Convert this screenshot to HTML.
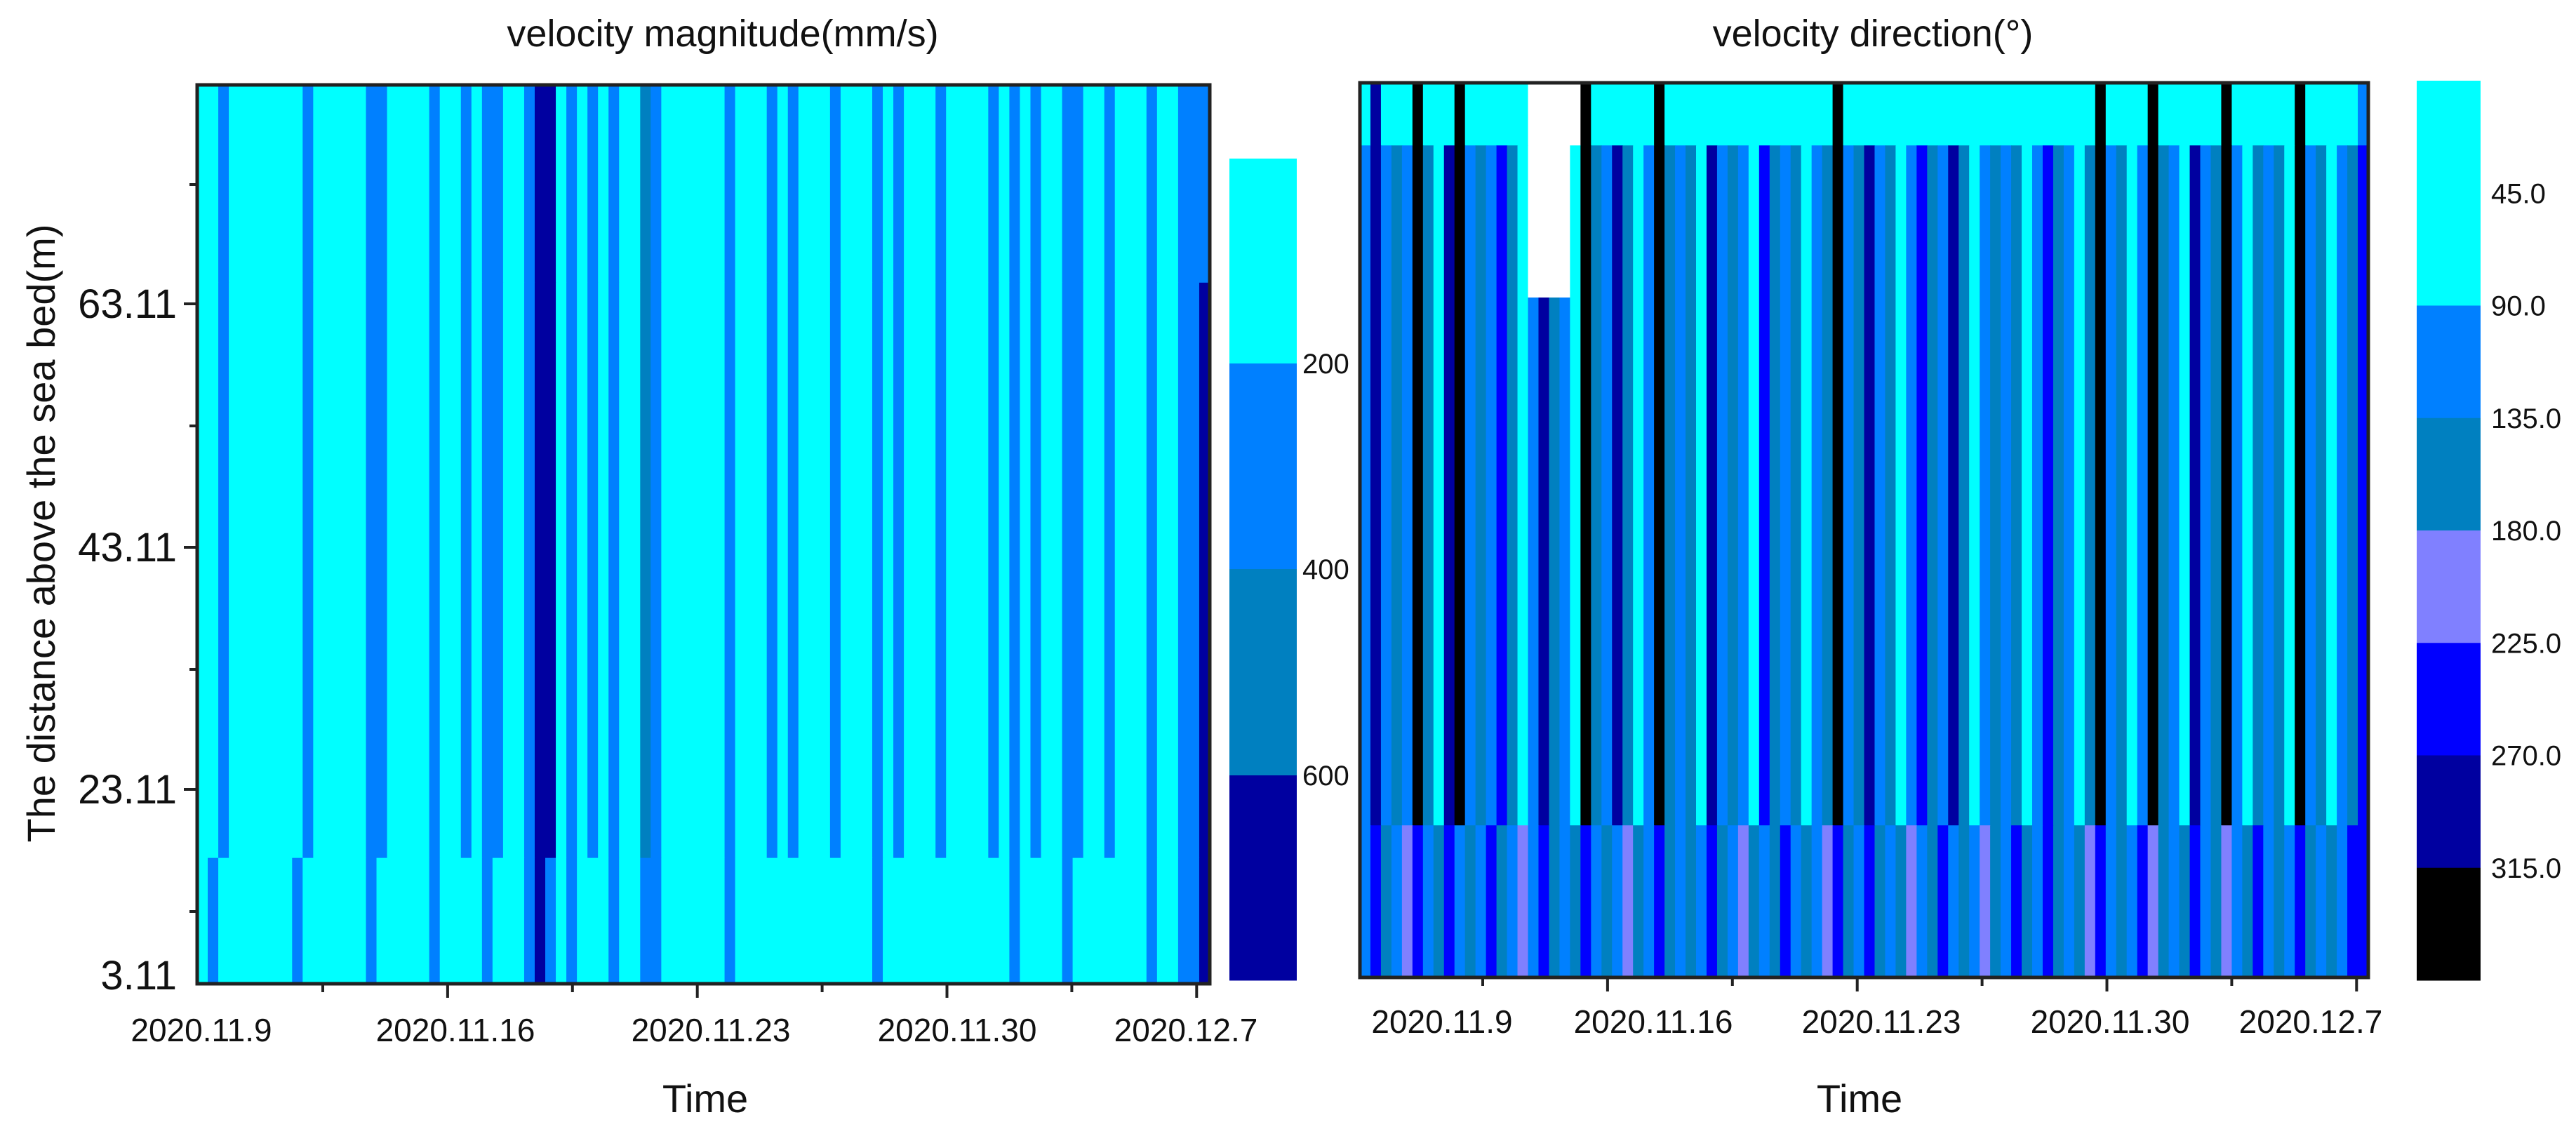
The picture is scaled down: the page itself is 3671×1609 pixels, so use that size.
<!DOCTYPE html>
<html><head><meta charset="utf-8"><style>
html,body{margin:0;padding:0;background:#fff;}
svg{display:block;font-family:"Liberation Sans",Arial,sans-serif;}
</style></head><body>
<svg id="c" width="3671" height="1609" viewBox="0 0 3671 1609" xmlns="http://www.w3.org/2000/svg">
<g id="mag"></g>
<g id="dir"></g>
<g id="axes"></g>
</svg>
<script>
// ---- data ----
const timeTicks = ["2020.11.9","2020.11.16","2020.11.23","2020.11.30","2020.12.7"];
const depthTicks = ["63.11","43.11","23.11","3.11"];
const magBands = [200,400,600];
const dirBands = ["45.0","90.0","135.0","180.0","225.0","270.0","315.0"];
const magTop = [100,100,300,100,100,100,100,100,100,100,300,100,100,100,100,100,300,300,100,100,100,100,300,100,100,300,100,300,300,100,100,300,700,700,100,300,100,300,100,300,100,100,500,300,100,100,100,100,100,100,300,100,100,100,300,100,300,100,100,100,300,100,100,100,300,100,300,100,100,100,300,100,100,100,100,300,100,300,100,300,100,100,300,300,100,100,300,100,100,100,300,100,100,300,300,300];
const magMid = magTop.slice(0,95).concat([700]);
const magBottom = [100,300,100,100,100,100,100,100,100,300,100,100,100,100,100,100,300,100,100,100,100,100,300,100,100,100,100,300,100,100,100,300,700,300,100,300,100,100,100,300,100,100,300,300,100,100,100,100,100,100,300,100,100,100,100,100,100,100,100,100,100,100,100,100,300,100,100,100,100,100,100,100,100,100,100,100,100,300,100,100,100,100,300,100,100,100,100,100,100,100,300,100,100,300,300,700];
const dirMid = [110,290,110,150,110,340,150,60,290,340,110,150,110,250,150,60,110,290,150,110,60,340,150,110,290,150,60,110,340,150,110,150,60,290,110,150,110,60,250,150,110,150,60,110,150,340,110,150,290,110,150,60,110,250,150,110,290,150,60,110,150,110,150,60,110,250,150,110,60,150,340,110,150,60,110,340,150,110,60,290,110,150,340,110,60,150,110,150,60,340,110,150,60,110,150,260];
const dirTop = [40,290,40,40,40,340,40,40,40,340,40,40,40,40,40,40,5,5,5,5,5,340,40,40,40,40,40,40,340,40,40,40,40,40,40,40,40,40,40,40,40,40,40,40,40,340,40,40,40,40,40,40,40,40,40,40,40,40,40,40,40,40,40,40,40,40,40,40,40,40,340,40,40,40,40,340,40,40,40,40,40,40,340,40,40,40,40,40,40,340,40,40,40,40,40,110];
const whiteCols = [16,17,18,19];
const dirBottom = [110,250,150,110,200,250,110,150,250,110,150,110,250,150,110,200,110,250,150,110,150,250,110,150,110,200,150,110,250,150,110,150,110,250,150,110,200,150,110,150,250,110,150,110,200,250,150,110,250,150,110,150,200,110,150,250,110,150,110,200,150,110,250,150,110,250,150,110,150,200,250,110,150,110,250,200,150,110,150,250,110,150,200,110,150,250,110,150,110,250,150,110,150,110,250,260];
// ---- helpers ----
const NS="http://www.w3.org/2000/svg";
function mk(tag,attrs,parent){const e=document.createElementNS(NS,tag);for(const k in attrs)e.setAttribute(k,attrs[k]);parent.appendChild(e);return e;}
function magColor(v){return v<200?"#00ffff":v<400?"#0080ff":v<600?"#0080c0":"#0000a0";}
function dirColor(v){return v<10?"#ffffff":v<90?"#00ffff":v<135?"#0080ff":v<180?"#0080c0":v<225?"#8080ff":v<270?"#0000ff":v<315?"#0000a0":"#000000";}
function drawPanel(g,x0,x1,y0,y1,layers,colorFn){
  const n=layers[0].vals.length, w=(x1-x0)/n;
  const xs=i=>x0+i*w;
  layers.forEach(L=>{
    L.vals.forEach((v,i)=>{
      const r=mk('rect',{x:xs(i),y:y0+L.f0*(y1-y0),width:w+0.6,height:(L.f1-L.f0)*(y1-y0)+0.6,fill:colorFn(v)},g);
      
      
    });
  });
}
const dirUpper = dirMid.map((v,i)=>whiteCols.includes(i)?5:v);
drawPanel(document.getElementById('mag'),281,1724,121,1402,[
  {vals:magTop,f0:0,f1:0.22},{vals:magMid,f0:0.22,f1:0.86},{vals:magBottom,f0:0.86,f1:1}],magColor);
drawPanel(document.getElementById('dir'),1938,3375,118,1393,[
  {vals:dirTop,f0:0,f1:0.07},{vals:dirUpper,f0:0.07,f1:0.24},{vals:dirMid,f0:0.24,f1:0.83},{vals:dirBottom,f0:0.83,f1:1}],dirColor);
const A=document.getElementById('axes');
function txt(s,x,y,size,anchor,name,extra){const t=mk('text',Object.assign({x:x,y:y,'font-size':size,'text-anchor':anchor||'middle',fill:'#111'},extra||{}),A);t.textContent=s;return t;}
let f=mk('rect',{x:281,y:121,width:1443,height:1281,fill:'none',stroke:'#222','stroke-width':5},A);

f=mk('rect',{x:1938,y:118,width:1437,height:1275,fill:'none',stroke:'#222','stroke-width':5},A);

txt("velocity magnitude(mm/s)",1030,66,54,'middle','magnitude-title');
txt("velocity direction(°)",2669,66,54,'middle','direction-title');
txt("Time",1005,1585,56,'middle','x-axis-title-left');
txt("Time",2650,1585,56,'middle','x-axis-title-right');
txt("The distance above the sea bed(m)",0,0,56,'middle','y-axis-title',{transform:'translate(78,760) rotate(-90)'});
const yMajor=[433,780,1125,1402];
depthTicks.forEach((s,i)=>{
  if(i<3){const l=mk('line',{x1:262,x2:281,y1:yMajor[i],y2:yMajor[i],stroke:'#222','stroke-width':4},A);}
  txt(s,252,(i<3?yMajor[i]:1390)+20,58,'end','y-tick-label');
});
[263,607,954,1299].forEach(y=>{const l=mk('line',{x1:270,x2:281,y1:y,y2:y,stroke:'#222','stroke-width':4},A);});
function xticks(x0,step,n,y,major){for(let i=0;i<n;i++){const x=x0+i*step;const l=mk('line',{x1:x,x2:x,y1:y,y2:y+(i%2===major?20:12),stroke:'#222','stroke-width':4},A);}}
xticks(460,177.9,8,1402,1);
xticks(2113,177.9,8,1393,1);
const lxL=[287,649,1013,1364,1690], lxR=[2055,2356,2681,3007,3293];
timeTicks.forEach((s,i)=>{txt(s,lxL[i],1484,46,'middle','x-tick-label-left');txt(s,lxR[i],1472,46,'middle','x-tick-label-right');});
const mcols=["#00ffff","#0080ff","#0080c0","#0000a0"];const mb=[226,518,811,1105,1397];
mcols.forEach((c,i)=>{const r=mk('rect',{x:1752,y:mb[i],width:96,height:mb[i+1]-mb[i]+0.5,fill:c},A);});
magBands.forEach((v,i)=>txt(String(v),1856,mb[i+1]+14,40,'start','magnitude-colorbar-label'));
const dcols=["#00ffff","#00ffff","#0080ff","#0080c0","#8080ff","#0000ff","#0000a0","#000000"];
dcols.forEach((c,i)=>{const y0=115+i*160.25;const r=mk('rect',{x:3444,y:y0,width:91,height:160.8,fill:c},A);});
dirBands.forEach((s,i)=>txt(s,3550,115+(i+1)*160.25+14,40,'start','direction-colorbar-label'));
</script>
</body></html>
